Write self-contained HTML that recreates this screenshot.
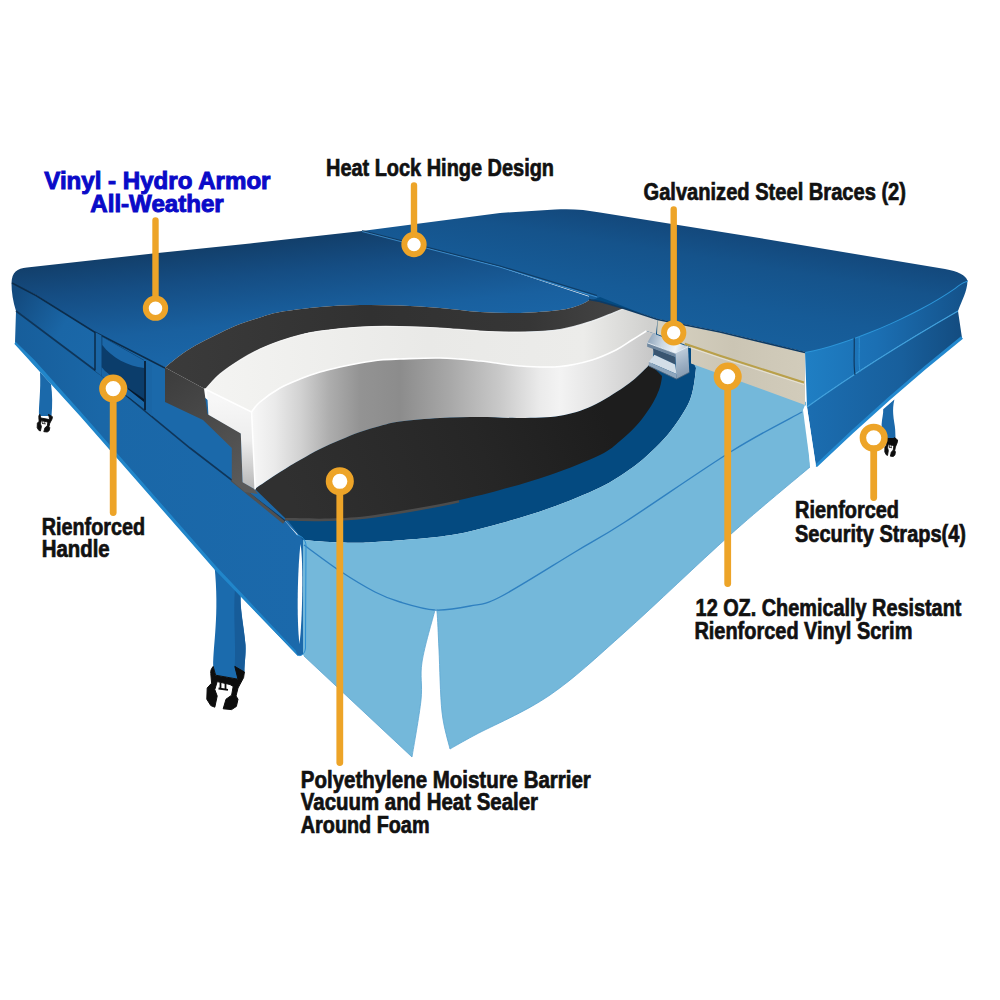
<!DOCTYPE html>
<html><head><meta charset="utf-8"><title>Spa cover cutaway</title>
<style>
html,body{margin:0;padding:0;background:#fff;}
body{width:1000px;height:1000px;overflow:hidden;font-family:"Liberation Sans",sans-serif;}
svg{display:block;}
</style></head><body>
<svg width="1000" height="1000" viewBox="0 0 1000 1000">
<defs>
<linearGradient id="gTop" gradientUnits="userSpaceOnUse" x1="300" y1="236" x2="314" y2="370">
<stop offset="0" stop-color="#123e69"/><stop offset="0.25" stop-color="#154d83"/><stop offset="0.6" stop-color="#19609f"/><stop offset="1" stop-color="#1b6aad"/></linearGradient>
<linearGradient id="gTopR" gradientUnits="userSpaceOnUse" x1="700" y1="225" x2="683" y2="330">
<stop offset="0" stop-color="#13477a"/><stop offset="0.3" stop-color="#15538b"/><stop offset="0.7" stop-color="#165b97"/><stop offset="1" stop-color="#175f9c"/></linearGradient>
<linearGradient id="gSideR" gradientUnits="userSpaceOnUse" x1="805" y1="0" x2="965" y2="0">
<stop offset="0" stop-color="#1f7fc4"/><stop offset="0.45" stop-color="#1b6fb3"/><stop offset="1" stop-color="#14528a"/></linearGradient>
<linearGradient id="gSkirtR" gradientUnits="userSpaceOnUse" x1="810" y1="0" x2="962" y2="0">
<stop offset="0" stop-color="#1b6db0"/><stop offset="0.6" stop-color="#185f9c"/><stop offset="1" stop-color="#134c80"/></linearGradient>
<linearGradient id="gSideL" gradientUnits="userSpaceOnUse" x1="12" y1="300" x2="110" y2="360">
<stop offset="0" stop-color="#134a7e"/><stop offset="0.5" stop-color="#1a66a6"/><stop offset="1" stop-color="#1b69aa"/></linearGradient>
<linearGradient id="gFoamSide" gradientUnits="userSpaceOnUse" x1="252" y1="0" x2="660" y2="0">
<stop offset="0" stop-color="#f7f7f7"/><stop offset="0.056" stop-color="#eaeaea"/><stop offset="0.118" stop-color="#d2d2d2"/><stop offset="0.19" stop-color="#adadad"/><stop offset="0.265" stop-color="#939393"/><stop offset="0.363" stop-color="#8c8c8c"/><stop offset="0.485" stop-color="#a8a8a8"/><stop offset="0.608" stop-color="#c9c9c9"/><stop offset="0.706" stop-color="#ebebeb"/><stop offset="0.755" stop-color="#f3f3f3"/><stop offset="0.853" stop-color="#e2e2e2"/><stop offset="0.975" stop-color="#c8c8c8"/></linearGradient>
<linearGradient id="gFoamTop" gradientUnits="userSpaceOnUse" x1="207" y1="0" x2="650" y2="0">
<stop offset="0" stop-color="#f4f4f2"/><stop offset="0.5" stop-color="#e9e9e7"/><stop offset="0.85" stop-color="#ececea"/><stop offset="1" stop-color="#d0d0ce"/></linearGradient>
<linearGradient id="gGray" gradientUnits="userSpaceOnUse" x1="165" y1="0" x2="620" y2="0">
<stop offset="0" stop-color="#3b3b3b"/><stop offset="0.45" stop-color="#313131"/><stop offset="0.8" stop-color="#363636"/><stop offset="1" stop-color="#444444"/></linearGradient>
<linearGradient id="gGrayF" gradientUnits="userSpaceOnUse" x1="165" y1="370" x2="245" y2="480">
<stop offset="0" stop-color="#3c3c3c"/><stop offset="0.5" stop-color="#4a4a4a"/><stop offset="1" stop-color="#5a5a5a"/></linearGradient>
<linearGradient id="gBlack" gradientUnits="userSpaceOnUse" x1="300" y1="520" x2="600" y2="400">
<stop offset="0" stop-color="#303030"/><stop offset="0.6" stop-color="#262626"/><stop offset="1" stop-color="#1d1d1d"/></linearGradient>
<linearGradient id="gEnd" gradientUnits="userSpaceOnUse" x1="0" y1="400" x2="0" y2="490">
<stop offset="0" stop-color="#f7f7f7"/><stop offset="0.45" stop-color="#ededed"/><stop offset="1" stop-color="#b5b5b5"/></linearGradient>
<linearGradient id="gBeige" gradientUnits="userSpaceOnUse" x1="660" y1="0" x2="805" y2="0">
<stop offset="0" stop-color="#d6d1c1"/><stop offset="0.5" stop-color="#cbc5b4"/><stop offset="1" stop-color="#d2ccbb"/></linearGradient>
<linearGradient id="gSteel" gradientUnits="userSpaceOnUse" x1="648" y1="338" x2="688" y2="350">
<stop offset="0" stop-color="#8fa5bb"/><stop offset="0.35" stop-color="#c9d6e2"/><stop offset="0.7" stop-color="#eef3f8"/><stop offset="1" stop-color="#b5c4d3"/></linearGradient>
<linearGradient id="gSteel2" gradientUnits="userSpaceOnUse" x1="676" y1="350" x2="689" y2="378">
<stop offset="0" stop-color="#c3d0dd"/><stop offset="0.5" stop-color="#9db0c4"/><stop offset="1" stop-color="#7d93aa"/></linearGradient>
<linearGradient id="gSkirtL" gradientUnits="userSpaceOnUse" x1="15" y1="0" x2="300" y2="0">
<stop offset="0" stop-color="#175e9b"/><stop offset="0.3" stop-color="#1a67a7"/><stop offset="1" stop-color="#1b69ab"/></linearGradient>
</defs>
<rect width="1000" height="1000" fill="#ffffff"/>

<g id="straps">
<path d="M40 372 L51 384 C52.5 395 52.5 405 51.5 416 L39 416 C38.5 405 41 392 40 372Z" fill="#1b69aa"/>
<g transform="translate(37.2 414.4) scale(0.404 0.407) translate(-206.8 -666.4)"><path d="M213.2 666.4 C211 669 210.5 671 210.8 673.6 L211.6 683.2 L207.2 688 L206.8 699.2 L210.8 705.6 L214.8 707.2 L217.2 696 L214.8 689.6 L217.2 681.6 L230 684.5 L233.2 686.4 L231.6 695.2 L226 699.2 L223.2 708.8 L231.6 709.6 L236.4 706.4 L238 699.2 L236 696 L238 688 L243.6 677.6 L244.4 672 L234.8 666.4 L238 679.2 L215.6 675.2 Z" fill="#0d0d0d" stroke="#0d0d0d" stroke-width="2.2" stroke-linejoin="round"/><path d="M220.5 682.5 L220.5 689 M225.5 683.3 L225.5 689.6 M218.5 688.5 L228 689.8" stroke="#0d0d0d" stroke-width="1.8" fill="none"/></g>
<path d="M214.5 566 L241 590 C239 605 244 625 245.5 645 C246 655 244.5 662 244.4 672 L238 679.2 L215.6 675.2 L213.2 666.4 C213 645 219.5 615 214.5 566Z" fill="#1b6bad"/>
<path d="M241 592 C239 607 244 627 245.5 645 C246 655 244.5 662 244.4 672 L238 679.2 L234.8 666.4 C236 640 233 615 235 588Z" fill="#175c99"/>
<g><path d="M213.2 666.4 C211 669 210.5 671 210.8 673.6 L211.6 683.2 L207.2 688 L206.8 699.2 L210.8 705.6 L214.8 707.2 L217.2 696 L214.8 689.6 L217.2 681.6 L230 684.5 L233.2 686.4 L231.6 695.2 L226 699.2 L223.2 708.8 L231.6 709.6 L236.4 706.4 L238 699.2 L236 696 L238 688 L243.6 677.6 L244.4 672 L234.8 666.4 L238 679.2 L215.6 675.2 Z" fill="#0d0d0d" stroke="#0d0d0d" stroke-width="1" stroke-linejoin="round"/><path d="M220.5 682.5 L220.5 689 M225.5 683.3 L225.5 689.6 M218.5 688.5 L228 689.8" stroke="#0d0d0d" stroke-width="1.8" fill="none"/></g>
<path d="M883.2 409.2 L894.4 399.6 C893 405 893 410 893.2 414 C893.5 420 895 425 895.2 430 L895.6 440 L888 440 C884 432 881.5 428 881.6 424.4 C882 418 883.5 414 883.2 409.2Z" fill="#1b69aa"/>
<g transform="translate(884.8 437.5) scale(0.34 0.44) translate(-206.8 -666.4)"><path d="M213.2 666.4 C211 669 210.5 671 210.8 673.6 L211.6 683.2 L207.2 688 L206.8 699.2 L210.8 705.6 L214.8 707.2 L217.2 696 L214.8 689.6 L217.2 681.6 L230 684.5 L233.2 686.4 L231.6 695.2 L226 699.2 L223.2 708.8 L231.6 709.6 L236.4 706.4 L238 699.2 L236 696 L238 688 L243.6 677.6 L244.4 672 L234.8 666.4 L238 679.2 L215.6 675.2 Z" fill="#0d0d0d" stroke="#0d0d0d" stroke-width="2.2" stroke-linejoin="round"/><path d="M220.5 682.5 L220.5 689 M225.5 683.3 L225.5 689.6 M218.5 688.5 L228 689.8" stroke="#0d0d0d" stroke-width="1.8" fill="none"/></g>
<path d="M886.5 438 L895.5 438 L896.5 444 L889 443 Z" fill="#0d0d0d"/>
</g>
<path d="M11.5 283 L36 295 L165 367.5 L300 470 L300 537 L285 521 L190 448 L100 374 L16 311 C13 302 11.5 292 11.5 283Z" fill="url(#gSideL)"/>
<path d="M16 311 L100 374 L190 448 L285 521 L297 535 C302 536 306 540 306 546 L305.5 648 C305 654 301 657 297 655 L215 569 L80 415 L29.6 360 L15 342.5 Z" fill="url(#gSkirtL)"/>
<path d="M15.3 341.5 L34.4 360 L80 411 L215 565 L296 651 L297.5 655.5 L215 570 L80 416 L29.6 360.5 L14.5 344 Z" fill="#2186ca"/>
<path d="M16 311 L100 374 L190 448 L285 521" stroke="#0f3559" stroke-width="1.6" fill="none"/>
<path d="M805 352 C845 345 915 316 955 288 C962 282 966 281 967.5 281 C967 292 962 300 958 311 C925 330 870 362 807 407 Z" fill="url(#gSideR)"/>
<path d="M807 407 C870 362 925 330 958 311 L962 338 C920 372 870 415 816 467 Z" fill="url(#gSkirtR)"/>
<path d="M816 466 C870 414 920 371 962 337.5" stroke="#2389cf" stroke-width="3" fill="none"/>
<path d="M807 407 C870 362 925 330 958 311" stroke="#3fa0dc" stroke-width="1.3" fill="none"/>
<path d="M805 352 C845 345 915 316 955 288 C962 282 966 281 967.5 281" stroke="#2c95d8" stroke-width="2" fill="none"/>
<path d="M854 334 C855 350 853 362 855 375" stroke="#0f3a62" stroke-width="1.2" fill="none"/><path d="M859 332 C860 348 858 360 860 372" stroke="#2c8fd2" stroke-width="1" fill="none"/>
<path d="M11.5 283 C12 272 17 268.5 27 267.5 L153 253.5 L250 243.5 L362 231 L500 267 L590 297 L590 299.6 C588.3 300.5 585 303.3 580 305 C575 306.7 570 308.7 560 310 C550 311.3 533.3 312.7 520 313 C506.7 313.3 493.3 312.8 480 312 C466.7 311.2 453.3 309.1 440 308 C426.7 306.9 413.3 306 400 305.5 C386.7 305 373.3 304.8 360 305 C346.7 305.2 333.3 305.8 320 307 C306.7 308.2 290 310.2 280 312 C270 313.8 266.7 315.5 260 317.5 C253.3 319.5 246.7 321.4 240 324 C233.3 326.6 226.7 329.8 220 333 C213.3 336.2 206.3 339.5 200 343 C193.7 346.5 187.8 349.9 182 354 C176.2 358.1 167.8 365.2 165 367.5 L93.6 331 L36 295 Z" fill="url(#gTop)"/>
<path d="M362 231 L500 213 L555 209.5 C570 208.5 585 209.5 600 212.5 L750 236.5 L945 269 C958 271.5 966 275 967.5 281 C966 281 962 282 955 288 C915 316 845 345 805 352 L720 331.5 L657.6 319 L624 308 L600 301 L589 299.5 L589 296 L500 267 Z" fill="url(#gTopR)"/>
<path d="M362 231.5 L500 267.2 L597 297" stroke="#3b8fd0" stroke-width="1" fill="none" opacity="0.9"/>
<path d="M362 230.5 L500 266 L597 295.5" stroke="#0e3558" stroke-width="1.2" fill="none" opacity="0.8"/>
<path d="M12 283 L36 295.5 L93.6 331.5 L165 368" stroke="#0c2c4a" stroke-width="1.5" fill="none"/>
<path d="M303 540 C309.2 540.4 328 542.2 340 542.5 C352 542.8 356.7 543.2 375 542 C393.3 540.8 429.2 538.3 450 535.2 C470.8 532.1 483.3 528 500 523.5 C516.7 519 533.3 514 550 508 C566.7 502 586.2 494.2 600 487.5 C613.8 480.8 623.8 473.6 632.5 467.5 C641.2 461.4 646.2 456.4 652 451 C657.8 445.6 662.8 440.5 667.5 435 C672.2 429.5 676.2 423.8 680 418 C683.8 412.2 687.7 405.7 690 400 C692.3 394.3 693 389.3 694 384 C695 378.7 695.7 370.7 696 368 L692 347 L657 320 L640 313  L600 297 L300 420 L285 517 Z" fill="#044a80"/>
<path d="M285 518 C292.5 518.1 315 519 330 518.5 C345 518 355 517.8 375 515 C395 512.2 429.2 506.2 450 502 C470.8 497.8 483.3 494.5 500 490 C516.7 485.5 533.3 480.8 550 475 C566.7 469.2 588.3 460.7 600 455 C611.7 449.3 614 445.8 620 441 C626 436.2 631.5 430.8 636 426 C640.5 421.2 643.8 416.5 647 412 C650.2 407.5 652.8 403.2 655 399 C657.2 394.8 658.8 390.8 660 387 C661.2 383.2 662 377.8 662.4 376" stroke="#4c4c4c" stroke-width="5" fill="none" stroke-dasharray="175 2000"/>
<path d="M254.5 489 C258.8 486.2 272.4 476.8 280 472 C287.6 467.2 293.3 463.8 300 460 C306.7 456.2 313.3 452.3 320 449 C326.7 445.7 333.3 442.8 340 440 C346.7 437.2 353.3 434.3 360 432 C366.7 429.7 373.3 427.8 380 426 C386.7 424.2 390 422.8 400 421.5 C410 420.2 426.7 418.8 440 418 C453.3 417.2 466.7 417 480 417 C493.3 417 506.7 418.2 520 418 C533.3 417.8 548 417.8 560 415.8 C572 413.8 581.3 410.8 592 406 C602.7 401.2 616 392.3 624 387 C632 381.7 635.7 377.8 640 374 C644.3 370.2 648.3 365.7 650 364 L662 376 C662 377.8 661.2 383.2 660 387 C658.8 390.8 657.2 394.8 655 399 C652.8 403.2 650.2 407.5 647 412 C643.8 416.5 640.5 421.2 636 426 C631.5 430.8 626 436.2 620 441 C614 445.8 611.7 449.3 600 455 C588.3 460.7 566.7 469.2 550 475 C533.3 480.8 516.7 485.5 500 490 C483.3 494.5 470.8 497.8 450 502 C429.2 506.2 395 512.2 375 515 C355 517.8 345 518 330 518.5 C315 519 292.5 518.1 285 518 L255 489 Z" fill="url(#gBlack)"/>
<path d="M231.8 480 L284 522.5" stroke="#505050" stroke-width="3" fill="none"/>
<path d="M165 367.5 C167.8 365.2 176.2 358.1 182 354 C187.8 349.9 193.7 346.5 200 343 C206.3 339.5 213.3 336.2 220 333 C226.7 329.8 233.3 326.6 240 324 C246.7 321.4 253.3 319.5 260 317.5 C266.7 315.5 270 313.8 280 312 C290 310.2 306.7 308.2 320 307 C333.3 305.8 346.7 305.2 360 305 C373.3 304.8 386.7 305 400 305.5 C413.3 306 426.7 306.9 440 308 C453.3 309.1 466.7 311.2 480 312 C493.3 312.8 506.7 313.3 520 313 C533.3 312.7 550 311.3 560 310 C570 308.7 575 306.7 580 305 C585 303.3 588.3 300.5 590 299.6 L600 302 L624 308.5 C622.2 309.2 618.3 310.9 613 313 C607.7 315.1 600.8 318.2 592 321 C583.2 323.8 572 327.7 560 329.5 C548 331.3 533.3 331.8 520 332 C506.7 332.2 493.3 331.7 480 331 C466.7 330.3 453.3 328.8 440 328 C426.7 327.2 413.3 326.7 400 326.5 C386.7 326.3 373.3 326.2 360 327 C346.7 327.8 330 329.7 320 331 C310 332.3 306.7 333.3 300 335 C293.3 336.7 286.7 338.7 280 341 C273.3 343.3 266.7 345.8 260 349 C253.3 352.2 246.7 355.8 240 360 C233.3 364.2 225.6 369.3 220 374 C214.4 378.7 208.8 385.7 206.5 388 L204 388.6 Z" fill="url(#gGray)"/>
<path d="M206.5 388 C208.8 385.7 214.4 378.7 220 374 C225.6 369.3 233.3 364.2 240 360 C246.7 355.8 253.3 352.2 260 349 C266.7 345.8 273.3 343.3 280 341 C286.7 338.7 293.3 336.7 300 335 C306.7 333.3 310 332.3 320 331 C330 329.7 346.7 327.8 360 327 C373.3 326.2 386.7 326.3 400 326.5 C413.3 326.7 426.7 327.2 440 328 C453.3 328.8 466.7 330.3 480 331 C493.3 331.7 506.7 332.2 520 332 C533.3 331.8 548 331.3 560 329.5 C572 327.7 583.2 323.8 592 321 C600.8 318.2 607.7 315.1 613 313 C618.3 310.9 622.2 309.2 624 308.5 L657.6 319.6 L656 334 L646.4 331 C644 332.5 637.1 336.8 632 340 C626.9 343.2 622.7 346.7 616 350 C609.3 353.3 601.3 357.2 592 360 C582.7 362.8 572 365.5 560 366.5 C548 367.5 533.3 366.9 520 366 C506.7 365.1 493.3 362.3 480 361 C466.7 359.7 453.3 358.3 440 358 C426.7 357.7 410 358.7 400 359 C390 359.3 386.7 359.3 380 360 C373.3 360.7 366.7 361.8 360 363 C353.3 364.2 346.7 365.5 340 367 C333.3 368.5 326.7 370 320 372 C313.3 374 306.7 376.3 300 379 C293.3 381.7 286.7 384.2 280 388 C273.3 391.8 264.8 398 260 402 C255.2 406 252.9 410.3 251.5 412 L207 390 Z" fill="url(#gFoamTop)"/>
<path d="M251.5 412 C252.9 410.3 255.2 406 260 402 C264.8 398 273.3 391.8 280 388 C286.7 384.2 293.3 381.7 300 379 C306.7 376.3 313.3 374 320 372 C326.7 370 333.3 368.5 340 367 C346.7 365.5 353.3 364.2 360 363 C366.7 361.8 373.3 360.7 380 360 C386.7 359.3 390 359.3 400 359 C410 358.7 426.7 357.7 440 358 C453.3 358.3 466.7 359.7 480 361 C493.3 362.3 506.7 365.1 520 366 C533.3 366.9 548 367.5 560 366.5 C572 365.5 582.7 362.8 592 360 C601.3 357.2 609.3 353.3 616 350 C622.7 346.7 626.9 343.2 632 340 C637.1 336.8 644 332.5 646.4 331 L656 334 L652 364 L650 364 C648.3 365.7 644.3 370.2 640 374 C635.7 377.8 632 381.7 624 387 C616 392.3 602.7 401.2 592 406 C581.3 410.8 572 413.8 560 415.8 C548 417.8 533.3 417.8 520 418 C506.7 418.2 493.3 417 480 417 C466.7 417 453.3 417.2 440 418 C426.7 418.8 410 420.2 400 421.5 C390 422.8 386.7 424.2 380 426 C373.3 427.8 366.7 429.7 360 432 C353.3 434.3 346.7 437.2 340 440 C333.3 442.8 326.7 445.7 320 449 C313.3 452.3 306.7 456.2 300 460 C293.3 463.8 287.6 467.2 280 472 C272.4 476.8 258.8 486.2 254.5 489 Z" fill="url(#gFoamSide)"/>
<path d="M251.5 412 C252.9 410.3 255.2 406 260 402 C264.8 398 273.3 391.8 280 388 C286.7 384.2 293.3 381.7 300 379 C306.7 376.3 313.3 374 320 372 C326.7 370 333.3 368.5 340 367 C346.7 365.5 353.3 364.2 360 363 C366.7 361.8 373.3 360.7 380 360 C386.7 359.3 390 359.3 400 359 C410 358.7 426.7 357.7 440 358 C453.3 358.3 466.7 359.7 480 361 C493.3 362.3 506.7 365.1 520 366 C533.3 366.9 548 367.5 560 366.5 C572 365.5 582.7 362.8 592 360 C601.3 357.2 609.3 353.3 616 350 C622.7 346.7 626.9 343.2 632 340 C637.1 336.8 644 332.5 646.4 331" stroke="#ffffff" stroke-width="1.6" fill="none"/>
<path d="M206.5 388 C208.8 385.7 214.4 378.7 220 374 C225.6 369.3 233.3 364.2 240 360 C246.7 355.8 253.3 352.2 260 349 C266.7 345.8 273.3 343.3 280 341 C286.7 338.7 293.3 336.7 300 335 C306.7 333.3 310 332.3 320 331 C330 329.7 346.7 327.8 360 327 C373.3 326.2 386.7 326.3 400 326.5 C413.3 326.7 426.7 327.2 440 328 C453.3 328.8 466.7 330.3 480 331 C493.3 331.7 506.7 332.2 520 332 C533.3 331.8 548 331.3 560 329.5 C572 327.7 583.2 323.8 592 321 C600.8 318.2 607.7 315.1 613 313 C618.3 310.9 622.2 309.2 624 308.5" stroke="#fafafa" stroke-width="1.2" fill="none" opacity="0.8"/>
<path d="M165 367.5 L204 388.6 L207.5 414 L240.8 433 L242.6 482 L255 489.4 L258 494 L245 492 L231.8 480.4 L231.8 448 L203 420 L165 402 Z" fill="url(#gGrayF)"/>
<path d="M207 390 L251.6 412 L255.2 489.4 L242.6 482.2 L240.8 433.6 L208.4 414.7 Z" fill="url(#gEnd)"/>
<path d="M207 390 L251.6 412 L255.2 489.4" stroke="#fff" stroke-width="1.5" fill="none"/>
<path d="M303 540 C309.2 540.4 328 542.2 340 542.5 C352 542.8 356.7 543.2 375 542 C393.3 540.8 429.2 538.3 450 535.2 C470.8 532.1 483.3 528 500 523.5 C516.7 519 533.3 514 550 508 C566.7 502 586.2 494.2 600 487.5 C613.8 480.8 623.8 473.6 632.5 467.5 C641.2 461.4 646.2 456.4 652 451 C657.8 445.6 662.8 440.5 667.5 435 C672.2 429.5 676.2 423.8 680 418 C683.8 412.2 687.7 405.7 690 400 C692.3 394.3 693 389.3 694 384 C695 378.7 695.7 370.7 696 368 L692 360 L806 402 L810 467 C796.7 478.3 760.8 507.5 730 535 C699.2 562.5 655 605.3 625 632 C595 658.7 575 677.8 550 695 C525 712.2 491.7 726 475 735 C458.3 744 454.2 746.7 450 749 C448.7 742.8 443.8 728.5 442 712 C440.2 695.5 439.8 666.7 439 650 C438.2 633.3 437.7 618.7 437 612 C436.3 605.3 435.3 610.3 435 610 C432.8 618.7 424.3 647 422 662 C419.7 677 422.7 684.2 421 700 C419.3 715.8 413.5 747.5 412 757 L303 655 L303 540 Z" fill="#74b8da"/>
<path d="M304 545 C310 549.3 328.2 563.2 340 571 C351.8 578.8 365 586.8 375 592 C385 597.2 390 599 400 602 C410 605 423.3 609.3 435 610 C446.7 610.7 459.2 608.2 470 606 C480.8 603.8 482.5 606 500 597 C517.5 588 554.2 564.5 575 552 C595.8 539.5 598.8 538.8 625 522 C651.2 505.2 702.5 469.3 732 451 C761.5 432.7 790.3 418.5 802 412" stroke="#2f80c0" stroke-width="1.4" fill="none"/>
<path d="M810 467 C796.7 478.3 760.8 507.5 730 535 C699.2 562.5 655 605.3 625 632 C595 658.7 575 677.8 550 695 C525 712.2 491.7 726 475 735 C458.3 744 454.2 746.7 450 749 C448.7 742.8 443.8 728.5 442 712 C440.2 695.5 439.8 666.7 439 650 C438.2 633.3 437.7 618.7 437 612 C436.3 605.3 435.3 610.3 435 610 C432.8 618.7 424.3 647 422 662 C419.7 677 422.7 684.2 421 700 C419.3 715.8 413.5 747.5 412 757 L304 656" stroke="#5aa5d0" stroke-width="0.8" fill="none"/>
<path d="M300.5 544 C303.5 560 302.5 620 299.5 644 C296.5 620 297.5 570 300.5 544Z" fill="#ffffff"/>
<path d="M297 535 C302 536 306 540 306 546 L305.5 648 C305 654 301 657 297 655" stroke="#2a8ed4" stroke-width="1" fill="none"/>
<path d="M657.6 319.5 L720 332 L805 352 L805 405 L720 374 L691 363.5 L691 347 L657 334 Z" fill="url(#gBeige)"/>
<path d="M684.8 343.8 L720 355.8 L804 382.5" stroke="#b9a04a" stroke-width="2" fill="none"/>
<path d="M684.8 345.8 L720 357.8 L804 384.5" stroke="#e8e3d4" stroke-width="1" fill="none"/>
<path d="M589 299.5 L600 301.5 L624 308.5 L657.6 319.5 L720 332 L805 352.5" stroke="#0e3a63" stroke-width="1.6" fill="none"/>
<path d="M805 405 L807 407 L816 466 L810.5 467 L803 410 Z" fill="#ffffff"/>
<g id="brace">
<path d="M675.2 353.2 L688 346.8 L689.3 372.4 L676.5 379.1 Z" fill="url(#gSteel2)"/>
<path d="M647.2 342.8 L652.8 333.2 L688 346.8 L675.2 353.2 Z" fill="url(#gSteel)"/>
<path d="M647.2 342.8 L675.2 353.2 L675.2 357.2 L647.2 346.8 Z" fill="#6f879f"/>
<path d="M652.8 348.6 L675.2 357.2 L675.2 364.4 L654.4 355 Z" fill="#3a5570"/>
<path d="M648.8 362 L654.4 354.8 L675.2 364.4 L676.5 374 Z" fill="#d3dee8"/>
<path d="M648.8 362 L676.5 374 L676.5 379.1 L648.8 366 Z" fill="#8ea6bd"/>
<path d="M647.2 342.8 L675.2 353.2 L688 346.8" stroke="#f4f8fb" stroke-width="0.8" fill="none"/>
<path d="M689.3 372.4 L676.5 379.1 L648.8 366" stroke="#4d647b" stroke-width="0.8" fill="none"/>
</g>
<g id="handle">
<path d="M95 332 L101.5 335.5 L101.5 376 L95 371 Z" fill="#1a66a6"/>
<path d="M95 332 L95 370.5" stroke="#0b2742" stroke-width="1.4"/>
<path d="M101.5 336 L144 360 L144 409 L101.5 376 Z" fill="#0b3d6b"/>
<path d="M102.3 337 L144 360.5 L144 368 C128 366 112 358 102.3 345 Z" fill="#1b67a8"/>
<path d="M128 388 L144 399 L144 409 L128 397 Z" fill="#06182b"/>
<path d="M101.5 367 L105 371 L144 402 L144 409 L101.5 376 Z" fill="#1a66a6"/>
<path d="M146 362 L152 365 L152 416 L146 411 Z" fill="#1a66a6"/>
<path d="M145 361 L145 410" stroke="#091f36" stroke-width="1.8"/>
</g>
<g id="markers">
<line x1="155.5" y1="308.2" x2="155.5" y2="220.5" stroke="#eda428" stroke-width="6.4" stroke-linecap="round"/><circle cx="155.5" cy="308.2" r="9.7" fill="#ffffff" stroke="#eda428" stroke-width="5.9"/>
<line x1="414" y1="244.5" x2="414" y2="185.5" stroke="#eda428" stroke-width="6.4" stroke-linecap="round"/><circle cx="414" cy="244.5" r="9.7" fill="#ffffff" stroke="#eda428" stroke-width="5.9"/>
<line x1="673.7" y1="332.8" x2="673.7" y2="209.5" stroke="#eda428" stroke-width="6.4" stroke-linecap="round"/><circle cx="673.7" cy="332.8" r="9.7" fill="#ffffff" stroke="#eda428" stroke-width="5.9"/>
<line x1="113.2" y1="388.6" x2="113.2" y2="512.5" stroke="#eda428" stroke-width="6.8" stroke-linecap="round"/><circle cx="113.2" cy="388.6" r="10.8" fill="#ffffff" stroke="#eda428" stroke-width="6.5"/>
<line x1="339.8" y1="481.3" x2="339.8" y2="762.5" stroke="#eda428" stroke-width="6.8" stroke-linecap="round"/><circle cx="339.8" cy="481.3" r="10.8" fill="#ffffff" stroke="#eda428" stroke-width="6.5"/>
<line x1="727.7" y1="376.6" x2="727.7" y2="583.5" stroke="#eda428" stroke-width="6.8" stroke-linecap="round"/><circle cx="727.7" cy="376.6" r="10.8" fill="#ffffff" stroke="#eda428" stroke-width="6.5"/>
<line x1="873.7" y1="437.8" x2="873.7" y2="497.5" stroke="#eda428" stroke-width="6.8" stroke-linecap="round"/><circle cx="873.7" cy="437.8" r="10.8" fill="#ffffff" stroke="#eda428" stroke-width="6.5"/>
</g>
<g font-family="'Liberation Sans', sans-serif" font-weight="bold">
<text x="44.3" y="189" font-size="24.5" fill="#0a0ac8" stroke="#0a0ac8" stroke-width="1.0" textLength="226.2" lengthAdjust="spacingAndGlyphs">Vinyl - Hydro Armor</text>
<text x="90.3" y="212.4" font-size="24.5" fill="#0a0ac8" stroke="#0a0ac8" stroke-width="1.0" textLength="133.4" lengthAdjust="spacingAndGlyphs">All-Weather</text>
<text x="326" y="175.6" font-size="23.5" fill="#111111" stroke="#111111" stroke-width="0.7" textLength="228" lengthAdjust="spacingAndGlyphs">Heat Lock Hinge Design</text>
<text x="643.5" y="200" font-size="23.5" fill="#111111" stroke="#111111" stroke-width="0.7" textLength="262.5" lengthAdjust="spacingAndGlyphs">Galvanized Steel Braces (2)</text>
<text x="41.7" y="534.5" font-size="23.5" fill="#111111" stroke="#111111" stroke-width="0.7" textLength="103.3" lengthAdjust="spacingAndGlyphs">Rienforced</text>
<text x="41.7" y="557.2" font-size="23.5" fill="#111111" stroke="#111111" stroke-width="0.7" textLength="68" lengthAdjust="spacingAndGlyphs">Handle</text>
<text x="795" y="517.5" font-size="23.5" fill="#111111" stroke="#111111" stroke-width="0.7" textLength="104" lengthAdjust="spacingAndGlyphs">Rienforced</text>
<text x="795" y="541.5" font-size="23.5" fill="#111111" stroke="#111111" stroke-width="0.7" textLength="171" lengthAdjust="spacingAndGlyphs">Security Straps(4)</text>
<text x="695.6" y="616" font-size="23.5" fill="#111111" stroke="#111111" stroke-width="0.7" textLength="265.8" lengthAdjust="spacingAndGlyphs">12 OZ. Chemically Resistant</text>
<text x="694.4" y="638.5" font-size="23.5" fill="#111111" stroke="#111111" stroke-width="0.7" textLength="218" lengthAdjust="spacingAndGlyphs">Rienforced Vinyl Scrim</text>
<text x="300.8" y="787.5" font-size="23.5" fill="#111111" stroke="#111111" stroke-width="0.7" textLength="290" lengthAdjust="spacingAndGlyphs">Polyethylene Moisture Barrier</text>
<text x="300.8" y="810" font-size="23.5" fill="#111111" stroke="#111111" stroke-width="0.7" textLength="237.2" lengthAdjust="spacingAndGlyphs">Vacuum and Heat Sealer</text>
<text x="300.8" y="832.5" font-size="23.5" fill="#111111" stroke="#111111" stroke-width="0.7" textLength="128.7" lengthAdjust="spacingAndGlyphs">Around Foam</text>
</g>
</svg>
</body></html>
